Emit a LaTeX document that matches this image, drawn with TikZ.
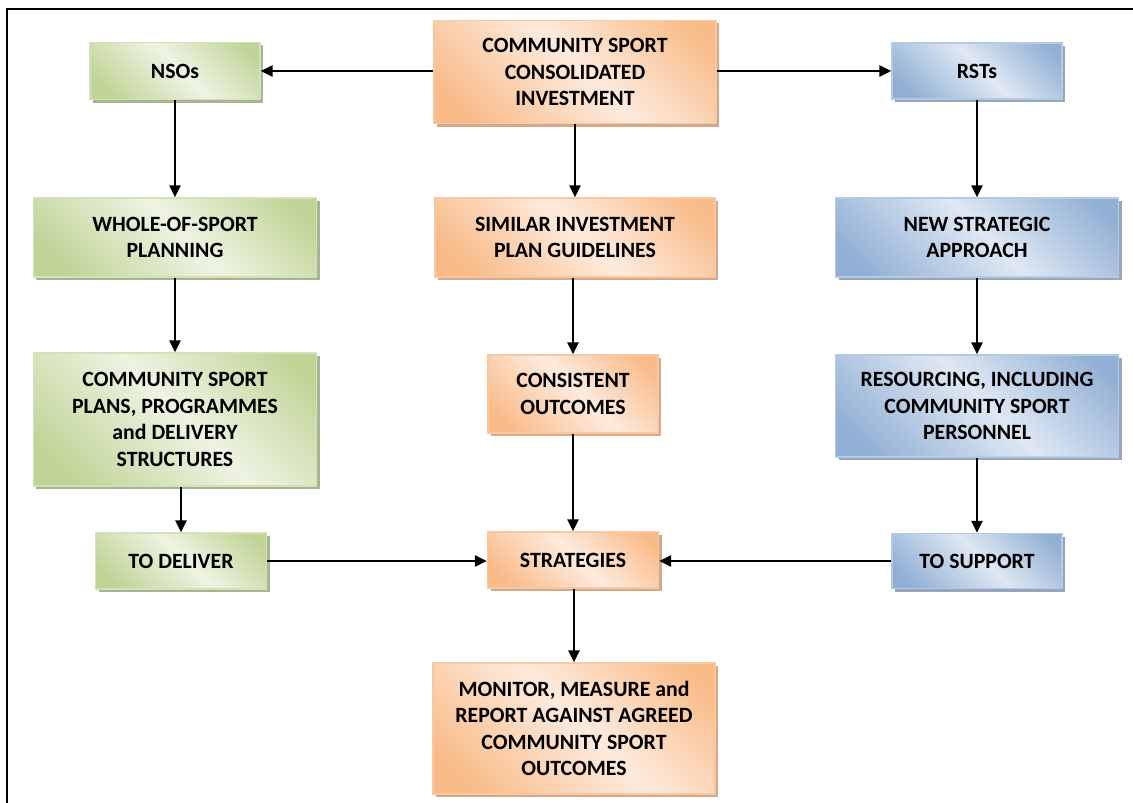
\documentclass[tikz,border=0pt]{standalone}
\usepackage{fontspec}
\setmainfont{Carlito}
\usetikzlibrary{arrows.meta,shadows}
\definecolor{gdark}{HTML}{C0D496}
\definecolor{glight}{HTML}{EEF3E3}
\definecolor{gborder}{HTML}{D3E0B8}
\definecolor{gshadow}{HTML}{A9B492}
\definecolor{odark}{HTML}{F9BB88}
\definecolor{olight}{HTML}{FDEBDE}
\definecolor{oborder}{HTML}{F9C8A0}
\definecolor{oshadow}{HTML}{D3A98B}
\definecolor{bdark}{HTML}{92B0D5}
\definecolor{blight}{HTML}{DFE8F3}
\definecolor{bborder}{HTML}{B4C9E2}
\definecolor{bshadow}{HTML}{97A6BC}
\pgfdeclarehorizontalshading{gsh}{100bp}{color(0bp)=(gdark); color(22bp)=(gdark); color(52bp)=(glight); color(80bp)=(gdark); color(100bp)=(gdark)}
\pgfdeclarehorizontalshading{osh}{100bp}{color(0bp)=(odark); color(22bp)=(odark); color(52bp)=(olight); color(80bp)=(odark); color(100bp)=(odark)}
\pgfdeclarehorizontalshading{bsh}{100bp}{color(0bp)=(bdark); color(22bp)=(bdark); color(52bp)=(blight); color(80bp)=(bdark); color(100bp)=(bdark)}
\tikzset{
  box/.style={draw, line width=1.2bp, align=center, inner sep=0pt,
    font=\bfseries\fontsize{21.8bp}{26.5bp}\selectfont, shading angle=45},
  gbox/.style={box, draw=gborder, shading=gsh,
    drop shadow={shadow xshift=3bp, shadow yshift=-3bp, fill=gshadow, opacity=1}},
  obox/.style={box, draw=oborder, shading=osh,
    drop shadow={shadow xshift=3bp, shadow yshift=-3bp, fill=oshadow, opacity=1}},
  bbox/.style={box, draw=bborder, shading=bsh,
    drop shadow={shadow xshift=3bp, shadow yshift=-3bp, fill=bshadow, opacity=1}},
  arr/.style={-{Triangle[length=12bp,width=11bp]}, line width=2.4bp},
  frame/.style={line width=2.6bp}
}
\begin{document}
\begin{tikzpicture}[x=1bp,y=-1bp]
\useasboundingbox (0,0) rectangle (1133,803);
\draw[frame] (7,810) -- (7,9) -- (1140,9);
% top row
\node[gbox, minimum width=170bp, minimum height=57bp] (nso) at (175,71) {NSOs};
\node[obox, minimum width=282bp, minimum height=103bp] (csci) at (575,72) {COMMUNITY SPORT\\CONSOLIDATED\\INVESTMENT};
\node[bbox, minimum width=170bp, minimum height=56bp] (rst) at (977,71) {RSTs};
% second row
\node[gbox, minimum width=283bp, minimum height=79bp] (whole) at (175,237.5) {WHOLE-OF-SPORT\\PLANNING};
\node[obox, minimum width=280bp, minimum height=79bp] (similar) at (575,237.5) {SIMILAR INVESTMENT\\PLAN GUIDELINES};
\node[bbox, minimum width=283bp, minimum height=79bp] (newstrat) at (977,237.5) {NEW STRATEGIC\\APPROACH};
% third row
\node[gbox, minimum width=283bp, minimum height=133bp] (plans) at (175,419.5) {COMMUNITY SPORT\\PLANS, PROGRAMMES\\and DELIVERY\\STRUCTURES};
\node[obox, minimum width=170bp, minimum height=78bp] (consistent) at (573,394) {CONSISTENT\\OUTCOMES};
\node[bbox, minimum width=283bp, minimum height=102bp] (resourcing) at (977,406) {RESOURCING, INCLUDING\\COMMUNITY SPORT\\PERSONNEL};
% fourth row
\node[gbox, minimum width=171bp, minimum height=56bp] (deliver) at (181,561) {TO DELIVER};
\node[obox, minimum width=171bp, minimum height=56bp] (strategies) at (573,560) {STRATEGIES};
\node[bbox, minimum width=170bp, minimum height=55bp] (support) at (977,561) {TO SUPPORT};
% bottom
\node[obox, minimum width=282bp, minimum height=131bp] (monitor) at (574,728.5) {MONITOR, MEASURE and\\REPORT AGAINST AGREED\\COMMUNITY SPORT\\OUTCOMES};
% connectors
\draw[arr] (csci.west |- nso) -- (nso.east);
\draw[arr] (csci.east |- rst) -- (rst.west);
\draw[arr] (nso.south) -- (nso.south |- whole.north);
\draw[arr] (csci.south) -- (csci.south |- similar.north);
\draw[arr] (rst.south) -- (rst.south |- newstrat.north);
\draw[arr] (whole.south -| plans) -- (plans.north);
\draw[arr] (similar.south -| consistent) -- (consistent.north);
\draw[arr] (newstrat.south -| resourcing) -- (resourcing.north);
\draw[arr] (plans.south -| deliver) -- (deliver.north);
\draw[arr] (consistent.south -| strategies) -- (strategies.north);
\draw[arr] (resourcing.south -| support) -- (support.north);
\draw[arr] (deliver.east) -- (deliver.east -| strategies.west);
\draw[arr] (support.west) -- (support.west -| strategies.east);
\draw[arr] (strategies.south -| monitor) -- (monitor.north);
\end{tikzpicture}
\end{document}
